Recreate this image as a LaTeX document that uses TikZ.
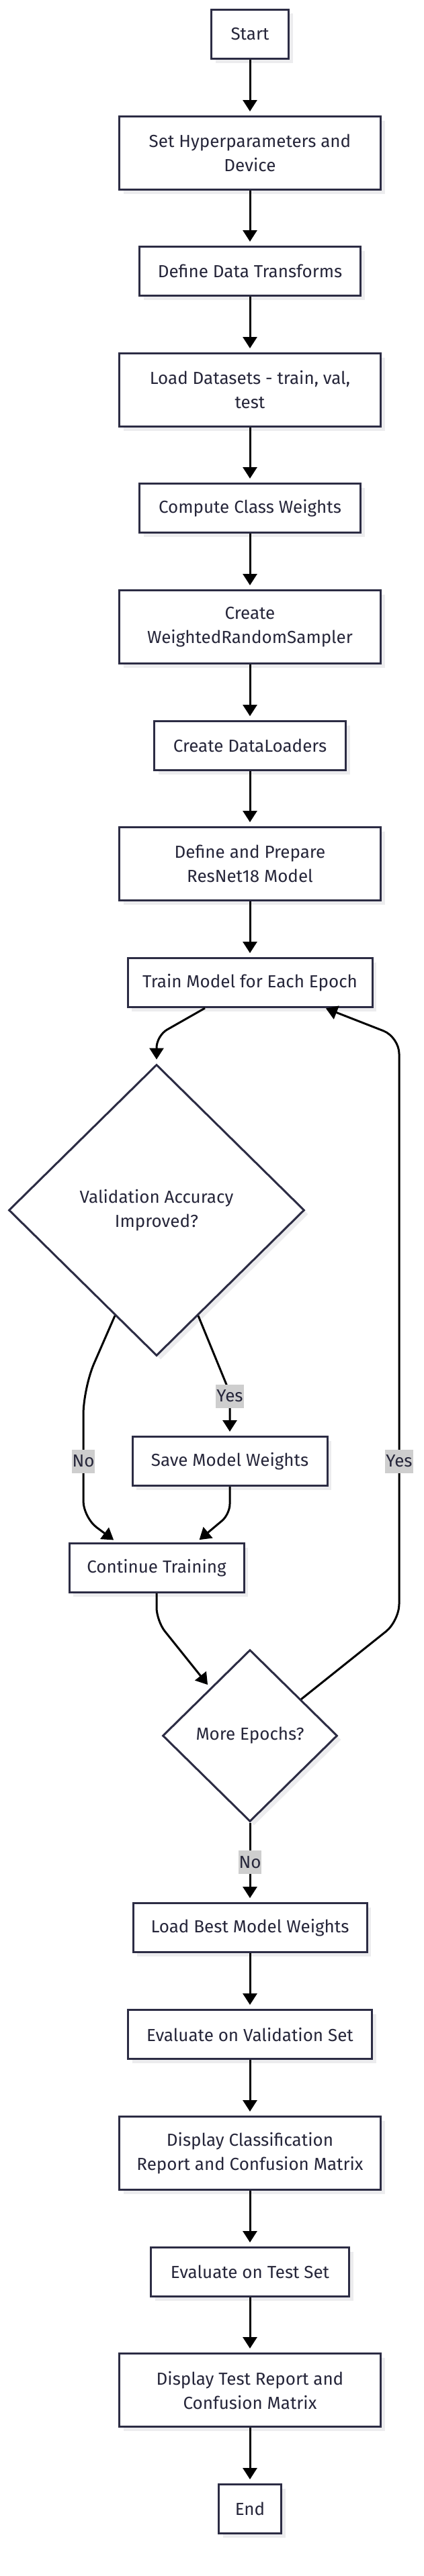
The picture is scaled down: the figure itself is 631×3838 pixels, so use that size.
\documentclass[tikz,border=0pt]{standalone}
\usepackage{fontspec}
\setmainfont{Fira Sans}
\usetikzlibrary{calc,shapes.geometric,arrows.meta,shadows}
\definecolor{boxNavy}{RGB}{44,44,68}
\definecolor{textNavy}{RGB}{38,38,58}
\definecolor{shadowGrey}{RGB}{236,236,238}
\definecolor{tagGrey}{RGB}{206,206,206}
\newcommand{\flowfont}{\fontsize{26}{36}\selectfont}

\begin{document}
\begin{tikzpicture}[x=1pt, y=-1pt,
    box/.style={draw=boxNavy, line width=3pt, fill=white, text=textNavy, font=\flowfont, align=center, inner sep=0pt, minimum height=73pt,
        drop shadow={shadow xshift=6pt, shadow yshift=-6pt, fill=shadowGrey, opacity=1}},
    tall/.style={box, minimum height=109pt},
    decide/.style={box, diamond},
    flow/.style={draw=black, line width=3pt, -{Triangle[width=21pt,length=17pt]}, shorten >=6pt},
    tag/.style={fill=tagGrey, text=textNavy, font=\flowfont, inner xsep=1pt, inner ysep=0pt, minimum height=35pt}]
    \fill[white] (0,0) rectangle (631,3838);
    \useasboundingbox (0,0) rectangle (631,3838);
    \node[box, minimum width=115pt] (start) at (372,51) {Start};
    \node[tall, minimum width=389pt] (hyper) at (372,228) {Set Hyperparameters and\\Device};
    \node[box, minimum width=329pt] (transforms) at (372,404) {Define Data Transforms};
    \node[tall, minimum width=389pt] (datasets) at (372,581) {Load Datasets - train, val,\\test};
    \node[box, minimum width=329pt] (classweights) at (372,757) {Compute Class Weights};
    \node[tall, minimum width=389pt] (sampler) at (372,934) {Create\\WeightedRandomSampler};
    \node[box, minimum width=285pt] (loaders) at (372,1111) {Create DataLoaders};
    \node[tall, minimum width=389pt] (resnet) at (372,1287) {Define and Prepare\\ResNet18 Model};
    \node[box, minimum width=364pt] (train) at (372,1464) {Train Model for Each Epoch};
    \node[decide, minimum width=440pt, minimum height=434pt] (valacc) at (233,1803) {Validation Accuracy\\Improved?};
    \node[box, minimum width=290pt] (save) at (342,2177) {Save Model Weights};
    \node[box, minimum width=260pt] (continue) at (233,2336) {Continue Training};
    \node[decide, minimum width=260pt, minimum height=256pt] (more) at (372,2586) {More Epochs?};
    \node[box, minimum width=348pt] (best) at (372,2872) {Load Best Model Weights};
    \node[box, minimum width=363pt] (evalval) at (372,3031) {Evaluate on Validation Set};
    \node[tall, minimum width=389pt] (report) at (372,3208) {Display Classification\\Report and Confusion Matrix};
    \node[box, minimum width=295pt] (evaltest) at (372,3385) {Evaluate on Test Set};
    \node[tall, minimum width=389pt] (testreport) at (372,3561) {Display Test Report and\\Confusion Matrix};
    \node[box, minimum width=93pt] (end) at (372,3738) {End};
    \coordinate (trainBend) at (233,1543);
    \coordinate (yesBend) at (342,2075);
    \coordinate (noTop) at (124,2068);
    \coordinate (noMid) at (124,2177);
    \coordinate (noBot) at (124,2261);
    \coordinate (saveBend) at (342,2256);
    \coordinate (contBend) at (233,2415);
    \coordinate (loopLow) at (594,2415);
    \coordinate (loopMid) at (594,2177);
    \coordinate (loopHigh) at (594,1545);
    \foreach \a/\b in {start/hyper, hyper/transforms, transforms/datasets, datasets/classweights, classweights/sampler, sampler/loaders, loaders/resnet, resnet/train, best/evalval, evalval/report, report/evaltest, evaltest/testreport, testreport/end}
        \draw[flow] (\a) -- (\b);
    \draw[flow, rounded corners=18pt] ([xshift=-67pt]train.south) -- (trainBend) -- (valacc.north);
    \draw[flow, rounded corners=8pt] ($(valacc.south)!0.28!(valacc.east)$) -- (yesBend) -- (save.north);
    \draw[flow, rounded corners=40pt] ($(valacc.south)!0.28!(valacc.west)$) -- (noTop) [rounded corners=25pt] -- (noBot) -- ([xshift=-59pt]continue.north);
    \draw[flow, rounded corners=15pt] (save.south) -- (saveBend) -- ([xshift=59pt]continue.north);
    \draw[flow, rounded corners=20pt] (continue.south) -- (contBend) -- ($(more.west)!0.55!(more.north)$);
    \draw[flow, rounded corners=25pt, shorten >=1pt] ($(more.north)!0.58!(more.east)$) -- (loopLow) -- (loopHigh) -- ([xshift=112pt]train.south);
    \draw[flow] (more) -- node[tag] {No} (best);
    \node[tag] at ($(yesBend)+(0,5)$) {Yes};
    \node[tag] at (noMid) {No};
    \node[tag] at (loopMid) {Yes};
\end{tikzpicture}
\end{document}
